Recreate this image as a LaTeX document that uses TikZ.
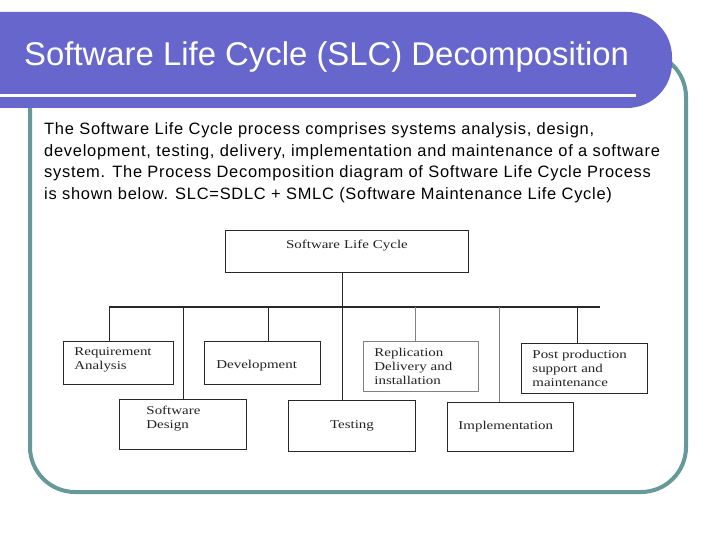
\documentclass[tikz,border=0pt]{standalone}
\usepackage{fontspec}
\setmainfont{Liberation Sans}
\newfontfamily\parafont[LetterSpace=4.5]{Liberation Sans}
\newfontfamily\diagfont[FakeStretch=1.25]{Liberation Serif}
\definecolor{barpurple}{RGB}{102,102,204}
\definecolor{frameteal}{RGB}{102,153,153}
\definecolor{boxline}{RGB}{40,40,40}
\definecolor{lightline}{RGB}{130,130,130}
\definecolor{boxtext}{RGB}{35,35,35}
\begin{document}
\begin{tikzpicture}[x=1bp,y=-1bp,
  para/.style={anchor=base west, inner sep=0, font=\parafont\fontsize{16.5}{19}\selectfont, text=black},
  blk/.style={draw=boxline, line width=0.9bp, anchor=north west, font=\diagfont\fontsize{12}{14}\selectfont,
    text=boxtext, inner ysep=0, align=left},
  conn/.style={draw=boxline, line width=1bp},
  connlight/.style={draw=lightline, line width=1bp},
]
\useasboundingbox (0,0) rectangle (720,540);
\fill[white] (0,0) rectangle (720,540);
% frame
\draw[frameteal, line width=4bp, rounded corners=45bp] (30,52) rectangle (686,492);
% title bar
\fill[barpurple, rounded corners=45bp] (-60,12) -- (672,12) -- (672,108) -- (-60,108) -- cycle;
\draw[white, line width=3bp] (-2,96) -- (636,96);
\node[anchor=base west, inner sep=0, text=white, font=\fontsize{33}{38}\selectfont] (title) at (24,66) {Software Life Cycle (SLC) Decomposition};
% paragraph
\node[para] (p1) at (44,135) {The Software Life Cycle process comprises systems analysis, design,};
\node[para] (p2) at (44,156.5) {development, testing, delivery, implementation and maintenance of a software};
\node[para] (p3) at (44,178) {system. The Process Decomposition diagram of Software Life Cycle Process};
\node[para] (p4) at (44,199.5) {is shown below. SLC=SDLC + SMLC (Software Maintenance Life Cycle)};
% boxes
\node[blk, align=center, inner xsep=6bp, text width=231bp, minimum height=42bp] (slc) at (225,230) {Software Life Cycle\\ ~};
\node[blk, inner xsep=11bp, text width=88bp, minimum height=43bp, text depth=22.5bp] (req) at (63,341) {Requirement\\Analysis};
\node[blk, inner xsep=12bp, text width=92bp, minimum height=43bp] (dev) at (204,341) {\raisebox{-3bp}[\height][\depth]{Development}};
\node[blk, draw=lightline, inner xsep=11bp, text width=93bp, minimum height=50bp] (rep) at (363,341) {Replication\\Delivery and\\installation};
\node[blk, inner xsep=11bp, text width=104bp, minimum height=50bp] (post) at (521,343) {Post production\\support and\\maintenance};
\node[blk, inner xsep=27bp, text width=73bp, minimum height=50bp] (des) at (119,399) {Software\\Design\\~};
\node[blk, align=center, inner xsep=6bp, text width=115bp, minimum height=51bp] (test) at (288,400) {Testing};
\node[blk, inner xsep=11bp, text width=104bp, minimum height=49bp] (impl) at (447,402) {Implementation};
% bus coordinates
\coordinate (busL) at (109,307);
\coordinate (busR) at (600,307);
\coordinate (b1) at (109,307);
\coordinate (b2) at (183,307);
\coordinate (b3) at (268,307);
\coordinate (b4) at (342,307);
\coordinate (b5) at (415,307);
\coordinate (b6) at (499,307);
\coordinate (b7) at (577,307);
% connectors
\draw[conn, line width=1.5bp] (busL) -- (busR);
\draw[conn] (slc.south -| b4) -- (test.north -| b4);
\draw[conn] (b1) -- (req.north -| b1);
\draw[conn] (b2) -- (des.north -| b2);
\draw[conn] (b3) -- (dev.north -| b3);
\draw[connlight] (b5) -- (rep.north -| b5);
\draw[connlight] (b6) -- (impl.north -| b6);
\draw[conn] (b7) -- (post.north -| b7);
\end{tikzpicture}
\end{document}
